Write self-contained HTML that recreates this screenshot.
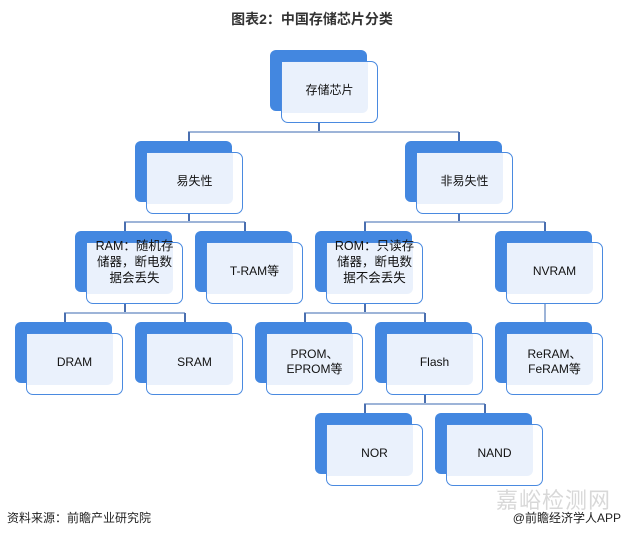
<!DOCTYPE html>
<html><head><meta charset="utf-8"><style>
body{margin:0;width:624px;height:538px;background:#fff;position:relative;overflow:hidden;font-family:"Liberation Sans","Noto Sans CJK SC",sans-serif}
.d{position:absolute;width:97px;height:61px;background:#4387e0;border-radius:6px}
.b{position:absolute;width:95px;height:60px;border:1.3px solid #4a8ae0;border-radius:7px;background:#fff}
.l{position:absolute;width:86px;height:51px;background:#eaf1fc;border-radius:0 0 6px 0}
.t{position:absolute;width:97px;height:56px;display:flex;align-items:center;justify-content:center;text-align:center;font-size:12px;line-height:15px;color:#111}
.m{font-size:12.5px;line-height:16px;letter-spacing:0}
.h{position:absolute;height:2px;background:#9db4d8}
.v{position:absolute;width:1.5px;background:#4a6fb0}
</style></head><body>
<div style="position:absolute;left:0;top:9px;width:624px;text-align:center;font-size:14px;font-weight:bold;color:#333">图表2：中国存储芯片分类</div>

<div class="v" style="left:318px;top:122px;height:10px"></div>
<div class="h" style="left:188px;top:131px;width:271px"></div>
<div class="v" style="left:188px;top:132px;height:10px"></div>
<div class="v" style="left:458px;top:132px;height:10px"></div>

<div class="v" style="left:188px;top:213px;height:9px"></div>
<div class="h" style="left:124px;top:221px;width:121px"></div>
<div class="v" style="left:124px;top:222px;height:10px"></div>
<div class="v" style="left:244px;top:222px;height:10px"></div>

<div class="v" style="left:458px;top:213px;height:9px"></div>
<div class="h" style="left:364px;top:221px;width:181px"></div>
<div class="v" style="left:364px;top:222px;height:10px"></div>
<div class="v" style="left:544px;top:222px;height:10px"></div>

<div class="v" style="left:124px;top:303px;height:9px"></div>
<div class="h" style="left:64px;top:312px;width:121px"></div>
<div class="v" style="left:64px;top:313px;height:10px"></div>
<div class="v" style="left:184px;top:313px;height:10px"></div>

<div class="v" style="left:364px;top:303px;height:9px"></div>
<div class="h" style="left:304px;top:312px;width:121px"></div>
<div class="v" style="left:304px;top:313px;height:10px"></div>
<div class="v" style="left:424px;top:313px;height:10px"></div>

<div class="v" style="left:544px;top:303px;height:20px;background:#9db4d8"></div>

<div class="v" style="left:424px;top:394px;height:9px"></div>
<div class="h" style="left:364px;top:403px;width:121px"></div>
<div class="v" style="left:364px;top:404px;height:10px"></div>
<div class="v" style="left:484px;top:404px;height:10px"></div>

<div class="d" style="left:270px;top:50px"></div><div class="b" style="left:281px;top:61px"></div><div class="l" style="left:282px;top:62px"></div><div class="t" style="left:281px;top:62px">存储芯片</div>

<div class="d" style="left:135px;top:141px"></div><div class="b" style="left:146px;top:152px"></div><div class="l" style="left:147px;top:153px"></div><div class="t" style="left:146px;top:153px">易失性</div>
<div class="d" style="left:405px;top:141px"></div><div class="b" style="left:416px;top:152px"></div><div class="l" style="left:417px;top:153px"></div><div class="t" style="left:416px;top:153px">非易失性</div>

<div class="d" style="left:75px;top:231px"></div><div class="b" style="left:86px;top:242px"></div><div class="l" style="left:87px;top:243px"></div><div class="t m" style="left:86px;top:234px">RAM：随机存<br>储器，断电数<br>据会丢失</div>
<div class="d" style="left:195px;top:231px"></div><div class="b" style="left:206px;top:242px"></div><div class="l" style="left:207px;top:243px"></div><div class="t" style="left:206px;top:243px">T-RAM等</div>
<div class="d" style="left:315px;top:231px"></div><div class="b" style="left:326px;top:242px"></div><div class="l" style="left:327px;top:243px"></div><div class="t m" style="left:326px;top:234px">ROM：只读存<br>储器，断电数<br>据不会丢失</div>
<div class="d" style="left:495px;top:231px"></div><div class="b" style="left:506px;top:242px"></div><div class="l" style="left:507px;top:243px"></div><div class="t" style="left:506px;top:243px">NVRAM</div>

<div class="d" style="left:15px;top:322px"></div><div class="b" style="left:26px;top:333px"></div><div class="l" style="left:27px;top:334px"></div><div class="t" style="left:26px;top:334px">DRAM</div>
<div class="d" style="left:135px;top:322px"></div><div class="b" style="left:146px;top:333px"></div><div class="l" style="left:147px;top:334px"></div><div class="t" style="left:146px;top:334px">SRAM</div>
<div class="d" style="left:255px;top:322px"></div><div class="b" style="left:266px;top:333px"></div><div class="l" style="left:267px;top:334px"></div><div class="t" style="left:266px;top:334px">PROM、<br>EPROM等</div>
<div class="d" style="left:375px;top:322px"></div><div class="b" style="left:386px;top:333px"></div><div class="l" style="left:387px;top:334px"></div><div class="t" style="left:386px;top:334px">Flash</div>
<div class="d" style="left:495px;top:322px"></div><div class="b" style="left:506px;top:333px"></div><div class="l" style="left:507px;top:334px"></div><div class="t" style="left:506px;top:334px">ReRAM、<br>FeRAM等</div>

<div class="d" style="left:315px;top:413px"></div><div class="b" style="left:326px;top:424px"></div><div class="l" style="left:327px;top:425px"></div><div class="t" style="left:326px;top:425px">NOR</div>
<div class="d" style="left:435px;top:413px"></div><div class="b" style="left:446px;top:424px"></div><div class="l" style="left:447px;top:425px"></div><div class="t" style="left:446px;top:425px">NAND</div>

<div style="position:absolute;left:396px;top:483px;font-size:22px;color:#d8d8d8;letter-spacing:1px;width:215px;text-align:right">嘉峪检测网</div>
<div style="position:absolute;left:7px;top:509px;font-size:12px;color:#222">资料来源：前瞻产业研究院</div>
<div style="position:absolute;right:3px;top:509px;font-size:12px;color:#222">@前瞻经济学人APP</div>
</body></html>
